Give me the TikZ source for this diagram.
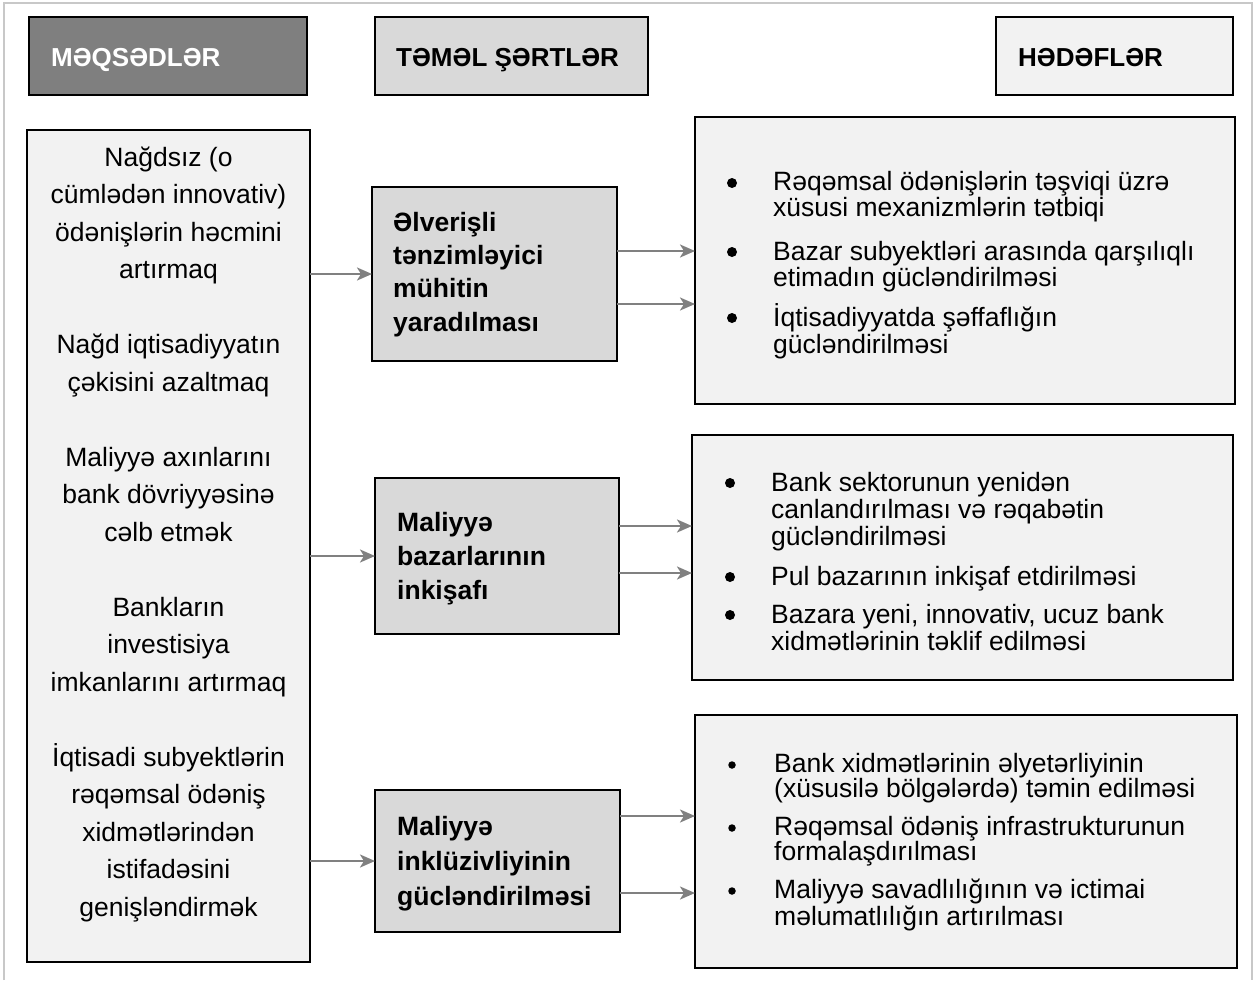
\documentclass[tikz,border=0pt]{standalone}
\usepackage{fontspec}
\setmainfont{Liberation Sans}
\usetikzlibrary{arrows.meta}
\definecolor{hdark}{HTML}{7F7F7F}
\definecolor{hmid}{HTML}{D9D9D9}
\definecolor{hlight}{HTML}{F2F2F2}
\definecolor{arrgray}{HTML}{808080}
\definecolor{framegray}{HTML}{C8C8C8}
\tikzset{
 box/.style={draw=black, line width=2pt, inner sep=0pt, outer sep=0pt, anchor=north west},
 hdr/.style={anchor=base west, inner sep=0pt, font=\fontsize{26}{30}\selectfont\bfseries},
 ltxt/.style={anchor=base, inner sep=0pt, font=\fontsize{26.5}{30}\selectfont},
 mtxt/.style={anchor=base west, inner sep=0pt, font=\fontsize{26.5}{30}\selectfont\bfseries},
 rtxt/.style={anchor=base west, inner sep=0pt, font=\fontsize{26.5}{30}\selectfont},
 dotb/.style={circle, fill=black, inner sep=0pt, minimum size=10pt},
 dots/.style={circle, fill=black, inner sep=0pt, minimum size=7.5pt},
 arr/.style={draw=arrgray, line width=2.5pt, -{Stealth[length=15pt, width=13pt, inset=4pt]}},
}
\begin{document}
\begin{tikzpicture}[x=1pt,y=-1pt]
\useasboundingbox (0,0) rectangle (1255,980);
\draw[framegray, line width=2pt] (4,980) -- (4,3) -- (1252,3) -- (1252,980);

% headers
\node[box, fill=hdark, minimum width=278pt, minimum height=78pt] (H1) at (29,17) {};
\node[box, fill=hmid, minimum width=273pt, minimum height=78pt] (H2) at (375,17) {};
\node[box, fill=hlight, minimum width=237pt, minimum height=78pt] (H3) at (996,17) {};
\node[hdr, text=white] (h1t) at (51,66) {MƏQSƏDLƏR};
\node[hdr] (h2t) at (396,66) {TƏMƏL ŞƏRTLƏR};
\node[hdr] (h3t) at (1018,66) {HƏDƏFLƏR};

% boxes
\node[box, fill=hlight, minimum width=283pt, minimum height=832pt] (L) at (27,130) {};
\node[box, fill=hmid, minimum width=245pt, minimum height=174pt] (M1) at (372,187) {};
\node[box, fill=hmid, minimum width=244pt, minimum height=156pt] (M2) at (375,478) {};
\node[box, fill=hmid, minimum width=245pt, minimum height=142pt] (M3) at (375,790) {};
\node[box, fill=hlight, minimum width=540pt, minimum height=287pt] (R1) at (695,117) {};
\node[box, fill=hlight, minimum width=541pt, minimum height=245pt] (R2) at (692,435) {};
\node[box, fill=hlight, minimum width=542pt, minimum height=253pt] (R3) at (695,715) {};

% left text
\foreach \i/\t in {0/{Nağdsız (o},1/{cümlədən innovativ)},2/{ödənişlərin həcmini},3/{artırmaq},
  5/{Nağd iqtisadiyyatın},6/{çəkisini azaltmaq},
  8/{Maliyyə axınlarını},9/{bank dövriyyəsinə},10/{cəlb etmək},
  12/{Bankların},13/{investisiya},14/{imkanlarını artırmaq},
  16/{İqtisadi subyektlərin},17/{rəqəmsal ödəniş},18/{xidmətlərindən},19/{istifadəsini},20/{genişləndirmək}}
  \node[ltxt] (lt\i) at (168.5,{166+\i*37.5}) {\t};

% middle texts
\node[mtxt] (m1a) at (393,231) {Əlverişli};
\node[mtxt] (m1b) at (393,264) {tənzimləyici};
\node[mtxt] (m1c) at (393,297) {mühitin};
\node[mtxt] (m1d) at (393,331) {yaradılması};
\node[mtxt] (m2a) at (397,531) {Maliyyə};
\node[mtxt] (m2b) at (397,565) {bazarlarının};
\node[mtxt] (m2c) at (397,599) {inkişafı};
\node[mtxt] (m3a) at (397,835) {Maliyyə};
\node[mtxt] (m3b) at (397,870) {inklüzivliyinin};
\node[mtxt] (m3c) at (397,905) {gücləndirilməsi};

% right box 1
\node[dotb] (b11) at (732,183) {};
\node[dotb] (b12) at (732,252) {};
\node[dotb] (b13) at (732,318) {};
\node[rtxt] (r11) at (773,190) {Rəqəmsal ödənişlərin təşviqi üzrə};
\node[rtxt] (r12) at (773,216) {xüsusi mexanizmlərin tətbiqi};
\node[rtxt] (r13) at (773,260) {Bazar subyektləri arasında qarşılıqlı};
\node[rtxt] (r14) at (773,286) {etimadın gücləndirilməsi};
\node[rtxt] (r15) at (773,326) {İqtisadiyyatda şəffaflığın};
\node[rtxt] (r16) at (773,353) {gücləndirilməsi};

% right box 2
\node[dotb] (b21) at (730,483) {};
\node[dotb] (b22) at (730,577) {};
\node[dotb] (b23) at (730,615) {};
\node[rtxt] (r21) at (771,491) {Bank sektorunun yenidən};
\node[rtxt] (r22) at (771,518) {canlandırılması və rəqabətin};
\node[rtxt] (r23) at (771,545) {gücləndirilməsi};
\node[rtxt] (r24) at (771,585) {Pul bazarının inkişaf etdirilməsi};
\node[rtxt] (r25) at (771,623) {Bazara yeni, innovativ, ucuz bank};
\node[rtxt] (r26) at (771,650) {xidmətlərinin təklif edilməsi};

% right box 3
\node[dots] (b31) at (732,765) {};
\node[dots] (b32) at (732,828) {};
\node[dots] (b33) at (732,891) {};
\node[rtxt] (r31) at (774,772) {Bank xidmətlərinin əlyetərliyinin};
\node[rtxt] (r32) at (774,797) {(xüsusilə bölgələrdə) təmin edilməsi};
\node[rtxt] (r33) at (774,835) {Rəqəmsal ödəniş infrastrukturunun};
\node[rtxt] (r34) at (774,860) {formalaşdırılması};
\node[rtxt] (r35) at (774,898) {Maliyyə savadlılığının və ictimai};
\node[rtxt] (r36) at (774,925) {məlumatlılığın artırılması};

% arrows left -> middle
\draw[arr] (L.east |- M1.west) -- (M1.west);
\draw[arr] (L.east |- M2.west) -- (M2.west);
\draw[arr] (L.east |- M3.west) -- (M3.west);

% arrows middle -> right
\coordinate (a11) at ([yshift=23pt]M1.east);
\coordinate (a12) at ([yshift=-30pt]M1.east);
\coordinate (a21) at ([yshift=30pt]M2.east);
\coordinate (a22) at ([yshift=-17pt]M2.east);
\coordinate (a31) at ([yshift=45pt]M3.east);
\coordinate (a32) at ([yshift=-32pt]M3.east);
\draw[arr] (a11) -- (a11 -| R1.west);
\draw[arr] (a12) -- (a12 -| R1.west);
\draw[arr] (a21) -- (a21 -| R2.west);
\draw[arr] (a22) -- (a22 -| R2.west);
\draw[arr] (a31) -- (a31 -| R3.west);
\draw[arr] (a32) -- (a32 -| R3.west);
\end{tikzpicture}
\end{document}
